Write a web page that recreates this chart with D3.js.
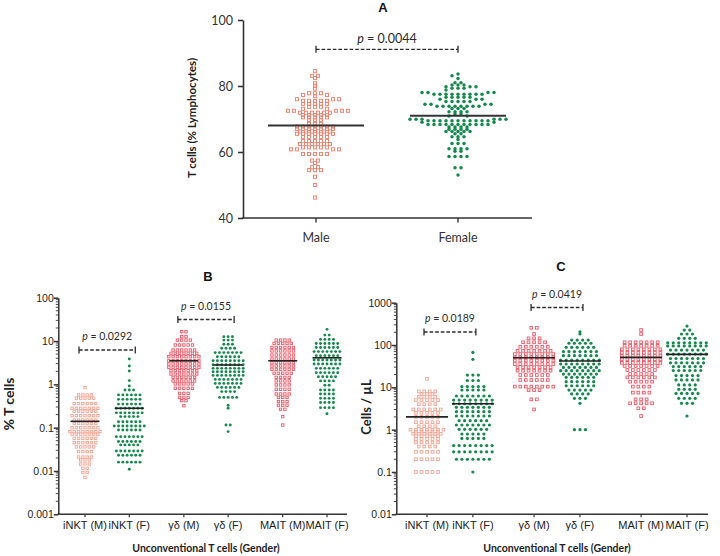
<!DOCTYPE html>
<html><head><meta charset="utf-8">
<script src="https://cdn.jsdelivr.net/npm/d3@7"></script>
<style>body{margin:0;background:#fff}svg{display:block}</style>
</head><body><svg id="c" width="720" height="556"></svg>
<script>
// ---------- DATA ----------
const aGroups = ["Male", "Female"];
const aTicks = [40, 60, 80, 100];
const aMeans = [68, 71];
const aP = "0.0044";
const aMale = [84.5, 83.1,83.1, 82.4, 80.8, 80.1, 79.2, 77.8,77.8,77.8, 77.3,77.3, 76.9,
  76.0,76.0,76.0, 75.5,75.5,75.5,75.5,75.5, 74.6,74.6,74.6,74.6,74.6, 73.7,73.7,73.7, 73.1,73.1,
  72.5,72.5,72.5,72.5,72.5, 71.9,71.9,71.9,71.9,71.9,71.9, 71.2,71.2,71.2,71.2,71.2,
  70.5,70.5,70.5,70.5,70.5, 69.7,69.7,69.7, 68.5,68.5,68.5,
  67.7,67.7,67.7,67.7,67.7,67.7,67.7, 67.0,67.0,67.0,67.0,67.0,67.0,67.0,
  66.2,66.2,66.2,66.2,66.2,66.2, 65.5,65.5,65.5,65.5,65.5,65.5,65.5, 64.6,64.6,64.6,64.6,64.6,
  63.3,63.3,63.3,63.3,63.3, 62.4,62.4,62.4,62.4,62.4,62.4, 61.4,61.4,61.4,61.4,61.4,
  60.8,60.8,60.8,60.8, 59.4,59.4,59.4,59.4,59.4, 57.4,57.4, 56.7, 55.4,55.4, 54.5,54.5,54.5,
  52.5, 50.0, 46.2];
const aFemale = [83.6, 83.1, 82.3, 81.0,81.0, 80.3,80.3,80.3, 79.8,79.8,79.8, 79.3,79.3,79.3, 78.8,
  78.0,78.0,78.0,78.0, 77.5,77.5,77.5,77.5,77.5,77.5,77.5,77.5,77.5, 76.6,76.6,76.6,76.6,76.6,
  76.0,76.0,76.0, 75.3,75.3,75.3,75.3,75.3, 74.5,74.5,74.5,74.5, 73.9,73.9,73.9,73.9,73.9,73.9,73.9,73.9,
  73.2,73.2,73.2, 72.2,72.2,72.2,72.2, 71.5,71.5, 70.9,70.9, 69.9,69.9,69.9,69.9,69.9,69.9,
  69.5,69.5,69.5,69.5,69.5,69.5,69.5,69.5,69.5,69.5,69.5, 69.0,69.0,
  68.3,68.3,68.3,68.3,68.3,68.3,68.3,68.3,68.3,68.3,68.3, 67.6,67.6,67.6,67.6,
  66.9,66.9,66.9,66.9, 66.2,66.2,66.2,66.2,66.2, 65.5,65.5, 64.6,64.6,64.6, 63.8,
  62.6,62.6,62.6, 61.0,61.0,61.0,61.0, 60.2,60.2, 58.6,58.6,58.6,58.6, 55.2,55.2, 53.0];

const uCats = ["iNKT (M)", "iNKT (F)", "γδ (M)", "γδ (F)", "MAIT (M)", "MAIT (F)"];
const bTicks = [0.001, 0.01, 0.1, 1, 10, 100];
const bMeans = [0.14, 0.28, 3.5, 2.8, 3.5, 4.1];
const bP = ["0.0292", "0.0155"];
const bINKTm = [0.84, 0.57,0.57,0.57,0.57, 0.48,0.48,0.48,0.48,0.48, 0.36,0.36,0.36,0.36,0.36,0.36,
  0.28,0.28,0.28,0.28,0.28,0.28,0.28, 0.24,0.24,0.24,0.24,0.24,0.24, 0.19,0.19,0.19,0.19,0.19,0.19,0.19,
  0.15,0.15,0.15,0.15,0.15,0.15, 0.125,0.125,0.125,0.125,0.125,0.125, 0.1,0.1,0.1,0.1,0.1,0.1,0.1,
  0.081,0.081,0.081,0.081,0.081,0.081,0.081,0.081, 0.071,0.071,0.071,0.071,0.071,0.071,0.071,
  0.057,0.057,0.057,0.057,0.057,0.057, 0.045,0.045,0.045,0.045,0.045,0.045, 0.036,0.036,0.036,0.036,0.036,
  0.028,0.028,0.028,0.028, 0.021,0.021,0.021,0.021, 0.018,0.018,0.018, 0.0145,0.0145,0.0145,
  0.0115,0.0115, 0.0092,0.0092, 0.0071];
const bINKTf = [3.85, 2.65, 2.03, 1.22, 0.92, 0.74,0.74,0.74, 0.57,0.57,0.57,0.57,0.57,0.57,
  0.45,0.45,0.45,0.45,0.45,0.45, 0.35,0.35,0.35,0.35,0.35,0.35, 0.28,0.28,0.28,0.28,0.28,0.28,0.28,
  0.22,0.22,0.22,0.22,0.22,0.22,0.22, 0.18,0.18,0.18,0.18,0.18, 0.137,0.137,0.137,0.137,0.137,0.137,
  0.109,0.109,0.109,0.109,0.109,0.109,0.109,0.109, 0.088,0.088,0.088,0.088,0.088,0.088,
  0.062,0.062,0.062,0.062,0.062,0.062,0.062, 0.048,0.048,0.048,0.048,0.048,0.048, 0.04,0.04,0.04,0.04,0.04,
  0.029,0.029,0.029,0.029,0.029,0.029,0.029, 0.023,0.023,0.023,0.023,0.023,0.023,
  0.016,0.016,0.016,0.016,0.016,0.016, 0.011];
const bGDm = [16.4,16.4, 12.6,12.6, 10.5,10.5,10.5,10.5, 8.1,8.1,8.1,8.1,8.1, 6.2,6.2,6.2,6.2,6.2,6.2,
  5.2,5.2,5.2,5.2,5.2,5.2,5.2, 4.35,4.35,4.35,4.35,4.35,4.35,4.35,4.35, 3.5,3.5,3.5,3.5,3.5,3.5,3.5,3.5,
  2.95,2.95,2.95,2.95,2.95,2.95,2.95,2.95, 2.47,2.47,2.47,2.47,2.47,2.47,2.47,2.47,
  2.07,2.07,2.07,2.07,2.07,2.07,2.07, 1.73,1.73,1.73,1.73,1.73,1.73,1.73, 1.45,1.45,1.45,1.45,1.45,1.45,
  1.2,1.2,1.2,1.2,1.2,1.2, 1.02,1.02,1.02,1.02,1.02, 0.81,0.81,0.81,0.81,0.81, 0.62,0.62,0.62,
  0.5,0.5,0.5, 0.42,0.42, 0.32];
const bGDf = [12.6,12.6,12.6, 10.5,10.5,10.5, 8.4,8.4,8.4, 6.8,6.8,6.8,6.8, 5.4,5.4,5.4,5.4,5.4,5.4,5.4,
  4.35,4.35,4.35,4.35,4.35,4.35, 3.5,3.5,3.5,3.5,3.5,3.5,3.5,3.5, 2.84,2.84,2.84,2.84,2.84,2.84,2.84,2.84,
  2.34,2.34,2.34,2.34,2.34,2.34,2.34,2.34, 1.96,1.96,1.96,1.96,1.96,1.96,1.96,1.96,
  1.61,1.61,1.61,1.61,1.61,1.61,1.61,1.61, 1.3,1.3,1.3,1.3,1.3,1.3,1.3, 1.05,1.05,1.05,1.05,1.05,1.05,1.05,
  0.85,0.85,0.85,0.85,0.85,0.85, 0.68,0.68,0.68,0.68, 0.5,0.5,0.5,0.5,0.5, 0.33, 0.28, 0.115,0.115, 0.081];
const bMAITm = [10.5,10.5,10.5,10.5, 8.8,8.8,8.8,8.8,8.8, 7.1,7.1,7.1,7.1,7.1,7.1, 5.9,5.9,5.9,5.9,5.9,5.9,
  4.75,4.75,4.75,4.75,4.75,4.75, 3.85,3.85,3.85,3.85,3.85,3.85, 3.16,3.16,3.16,3.16,3.16,3.16,
  2.65,2.65,2.65,2.65,2.65,2.65, 2.22,2.22,2.22,2.22,2.22,2.22, 1.8,1.8,1.8,1.8,1.8, 1.45,1.45,1.45,1.45,
  1.2,1.2,1.2,1.2, 0.97,0.97,0.97,0.97, 0.77,0.77,0.77,0.77, 0.6,0.6,0.6,0.6, 0.5,0.5,0.5, 0.4,0.4,0.4,
  0.33,0.33,0.33, 0.265,0.265, 0.18, 0.115];
const bMAITf = [18.6, 13.7,13.7, 10.9,10.9,10.9,10.9, 8.8,8.8,8.8,8.8,8.8,8.8, 7.1,7.1,7.1,7.1,7.1,7.1,
  5.7,5.7,5.7,5.7,5.7,5.7,5.7, 4.6,4.6,4.6,4.6,4.6,4.6, 3.65,3.65,3.65,3.65,3.65,3.65,3.65,
  2.95,2.95,2.95,2.95,2.95,2.95,2.95, 2.34,2.34,2.34,2.34,2.34,2.34, 1.86,1.86,1.86,1.86,1.86,1.86,
  1.5,1.5,1.5,1.5,1.5, 1.2,1.2,1.2,1.2, 0.95,0.95, 0.74,0.74,0.74,0.74, 0.6,0.6,0.6,0.6,
  0.475,0.475,0.475,0.475, 0.38,0.38,0.38,0.38, 0.29,0.29,0.29,0.29, 0.21];

const cTicks = [0.01, 0.1, 1, 10, 100, 1000];
const cMeans = [2.0, 4.1, 50, 42, 51, 60];
const cP = ["0.0189", "0.0419"];
const cINKTm = [16, 8,8,8,8, 7,7,7, 6,6,6,6, 5,5,5,5,5, 4,4,4,4, 3,3,3,3,3,3, 2.5,2.5,2.5,2.5,2.5,
  2,2,2,2,2, 1.5,1.5,1.5,1.5,1.5, 1.2,1.2,1.2,1.2, 1,1,1,1,1,1,1, 0.9,0.9,0.9,0.9,0.9,
  0.8,0.8,0.8,0.8,0.8,0.8, 0.7,0.7,0.7,0.7,0.7, 0.6,0.6,0.6,0.6,0.6, 0.5,0.5,0.5,0.5,0.5,
  0.4,0.4,0.4,0.4, 0.3,0.3,0.3,0.3,0.3, 0.2,0.2,0.2,0.2,0.2, 0.1,0.1,0.1,0.1,0.1];
const cINKTf = [67, 46, 19.5,19.5,19.5, 14.5,14.5,14.5, 10.4,10.4,10.4,10.4,10.4, 8.65,8.65,8.65,8.65,8.65,
  6.24,6.24,6.24,6.24,6.24,6.24,6.24, 5.0,5.0,5.0,5.0,5.0,5.0,5.0,5.0, 4.1,4.1,4.1,4.1,4.1,4.1,4.1,4.1,
  3.37,3.37,3.37,3.37,3.37,3.37,3.37, 2.66,2.66,2.66,2.66,2.66,2.66,2.66, 2.1,2.1,2.1,2.1,2.1,2.1,2.1,
  1.63,1.63,1.63,1.63,1.63,1.63, 1.29,1.29,1.29,1.29,1.29,1.29,1.29, 1.02,1.02,1.02,1.02,1.02,1.02,
  0.79,0.79,0.79,0.79,0.79, 0.62,0.62,0.62,0.62,0.62, 0.42,0.42,0.42,0.42,0.42,0.42,0.42,0.42,
  0.3,0.3,0.3,0.3,0.3,0.3,0.3,0.3, 0.2,0.2,0.2,0.2,0.2,0.2,0.2, 0.1];
const cGDm = [256,256, 182, 144,144,144, 116,116,116,116,116, 91,91,91,91,91,91, 73,73,73,73,73,73,73,
  61,61,61,61,61,61,61,61, 51,51,51,51,51,51,51,51, 43,43,43,43,43,43,43,43,
  35.5,35.5,35.5,35.5,35.5,35.5,35.5,35.5, 29.7,29.7,29.7,29.7,29.7,29.7,29.7,
  24.8,24.8,24.8,24.8,24.8,24.8,24.8, 19.6,19.6,19.6,19.6,19.6,19.6, 14.9,14.9,14.9,14.9,14.9,14.9,
  10.4,10.4,10.4,10.4,10.4,10.4,10.4,10.4, 8.6,8.6,8.6, 5.2,5.2, 3.0];
const cGDf = [205, 182, 131,131,131,131, 110,110,110,110,110, 88,88,88,88,88,88, 70,70,70,70,70,70,70,
  56,56,56,56,56,56,56, 44,44,44,44,44,44,44,44, 35.6,35.6,35.6,35.6,35.6,35.6,35.6,35.6,
  29.6,29.6,29.6,29.6,29.6,29.6,29.6, 24.8,24.8,24.8,24.8,24.8,24.8,24.8,24.8,
  20.6,20.6,20.6,20.6,20.6,20.6,20.6, 17.2,17.2,17.2,17.2,17.2,17.2, 13.6,13.6,13.6,13.6,13.6,13.6,
  10.9,10.9,10.9,10.9,10.9,10.9, 8.6,8.6,8.6,8.6,8.6, 7.0,7.0,7.0,7.0, 5.5,5.5,5.5, 4.2, 1.0,1.0,1.0];
const cMAITm = [226, 182, 116,116,116,116,116,116,116, 96,96,96,96,96,96,96, 79,79,79,79,79,79,79,79,
  66,66,66,66,66,66,66,66, 55,55,55,55,55,55,55,55, 46,46,46,46,46,46,46,46, 38,38,38,38,38,38,38,38,
  32,32,32,32,32,32,32, 25.7,25.7,25.7,25.7,25.7,25.7, 20.6,20.6,20.6,20.6,20.6,
  17.2,17.2,17.2,17.2,17.2,17.2, 13.6,13.6,13.6,13.6,13.6, 10.4,10.4,10.4,10.4, 7.5,7.5,7.5,7.5,
  5.2,5.2,5.2, 4.2,4.2,4.2,4.2,4.2, 3.2,3.2, 2.1];
const cMAITf = [281, 226,226, 182,182,182, 144,144,144,144, 113,113,113,113,113,113,113,113,
  95,95,95,95,95,95,95,95, 76,76,76,76,76,76,76, 61,61,61,61,61,61,61,61, 48,48,48,48,48,48,48,
  38,38,38,38,38,38,38, 31,31,31,31,31,31, 25,25,25,25,25,25, 19,19,19,19,19, 15,15,15,15,15,
  11.4,11.4,11.4,11.4, 9,9,9,9, 7.2,7.2,7.2,7.2,7.2, 5.5,5.5,5.5,5.5, 4.2,4.2,4.2, 2.1];

const bGroups = [bINKTm, bINKTf, bGDm, bGDf, bMAITm, bMAITf];
const cGroups = [cINKTm, cINKTf, cGDm, cGDf, cMAITm, cMAITf];

// ---------- STYLE ----------
const GREEN = "#13894c", CORAL = "#f07c68", SALMON = "#f4a392", PINK = "#ef5866";
const groupColors = [SALMON, GREEN, PINK, GREEN, PINK, GREEN];
const groupShapes = ["sq", "dot", "sq", "dot", "sq", "dot"];
const FA = "Lato, 'Open Sans', sans-serif";
const FB = "'Liberation Sans', Arial, sans-serif";
const INK = "#2b2b2b";

const svg = d3.select("#c");

// beeswarm row layout (Prism-like)
function swarm(vals, yS, sp, dyT) {
  const rows = Array.from(d3.group(vals, v => v), ([v, arr]) => ({v, n: arr.length, y: yS(v)}));
  rows.sort((a, b) => b.n - a.n || a.y - b.y);
  const placed = [];
  let alt = 1;
  for (const r of rows) {
    const ks = d3.range(r.n).map(i => i - (r.n - 1) / 2)
      .sort((a, b) => Math.abs(a) - Math.abs(b) || b - a);
    for (const k of ks) {
      let side;
      if (k > 0) side = 1; else if (k < 0) side = -1; else { alt = -alt; side = alt; }
      let x = k * sp, guard = 0;
      while (placed.some(p => Math.abs(p.x - x) < sp * 0.95 && Math.abs(p.y - r.y) < dyT) && guard++ < 300)
        x += side * sp / 2;
      placed.push({v: r.v, x, y: r.y});
    }
  }
  return placed;
}

function drawMarks(g, pts, cx, shape, color, size) {
  if (shape === "sq") {
    g.selectAll(null).data(pts).join("rect")
      .attr("x", d => cx + d.x - size / 2).attr("y", d => d.y - size / 2)
      .attr("width", size).attr("height", size)
      .attr("fill", "none").attr("stroke", color).attr("stroke-width", 0.9);
  } else {
    g.selectAll(null).data(pts).join("circle")
      .attr("cx", d => cx + d.x).attr("cy", d => d.y).attr("r", size / 2 + 0.25)
      .attr("fill", color);
  }
}

function pLabel(x, y, val, size) {
  const t = svg.append("text").attr("x", x).attr("y", y).attr("text-anchor", "middle")
    .attr("font-family", FA).attr("font-size", size).attr("fill", INK);
  t.append("tspan").attr("font-style", "italic").text("p");
  t.append("tspan").text(" = " + val);
}
function bracket(x1, x2, y) {
  const g = svg.append("g").attr("stroke", INK).attr("stroke-width", 1.3);
  g.append("line").attr("x1", x1).attr("x2", x2).attr("y1", y).attr("y2", y).attr("stroke-dasharray", "3.6,2");
  g.append("line").attr("x1", x1).attr("x2", x1).attr("y1", y - 3.5).attr("y2", y + 3.5);
  g.append("line").attr("x1", x2).attr("x2", x2).attr("y1", y - 3.5).attr("y2", y + 3.5);
}
function title(x, y, s) {
  svg.append("text").attr("x", x).attr("y", y).attr("text-anchor", "middle")
    .attr("font-family", FB).attr("font-weight", "bold").attr("font-size", 13).attr("fill", "#111").text(s);
}

// ---------- PANEL A ----------
const yA = d3.scaleLinear().domain([40, 100]).range([218, 20]);
const xA = d3.scalePoint().domain(aGroups).range([316, 458]);
const axA = svg.append("g").attr("transform", "translate(243,0)")
  .call(d3.axisLeft(yA).tickValues(aTicks).tickSize(5).tickSizeOuter(0));
axA.selectAll("path,line").attr("stroke", "#333").attr("stroke-width", 1.6);
axA.selectAll("text").attr("font-family", FA).attr("font-size", 12.5).attr("fill", "#333").attr("x", -10);
svg.append("line").attr("x1", 242.2).attr("x2", 532).attr("y1", 218).attr("y2", 218)
  .attr("stroke", "#333").attr("stroke-width", 1.6);
aGroups.forEach(gn => {
  svg.append("line").attr("x1", xA(gn)).attr("x2", xA(gn)).attr("y1", 218).attr("y2", 222.5)
    .attr("stroke", "#333").attr("stroke-width", 1.4);
  svg.append("text").attr("x", xA(gn)).attr("y", 241.5).attr("text-anchor", "middle")
    .attr("font-family", FA).attr("font-size", 12.5).attr("fill", "#333").text(gn);
});
svg.append("text").attr("transform", "translate(196,118) rotate(-90)").attr("text-anchor", "middle")
  .attr("font-family", FA).attr("font-weight", "bold").attr("font-size", 11.5).attr("fill", "#222")
  .text("T cells (% Lymphocytes)");
const gA = svg.append("g");
drawMarks(gA, swarm(aMale, yA, 6, 2.1), xA("Male") - 1, "sq", CORAL, 3.1);
drawMarks(gA, swarm(aFemale, yA, 6, 2.1), xA("Female"), "dot", GREEN, 3.0);
[aMale, aFemale].forEach((_, i) => {
  const cx = xA(aGroups[i]);
  svg.append("line").attr("x1", cx - 48).attr("x2", cx + 48).attr("y1", yA(aMeans[i])).attr("y2", yA(aMeans[i]))
    .attr("stroke", "#333").attr("stroke-width", 2);
});
bracket(xA("Male"), xA("Female"), 49.3);
pLabel((xA("Male") + xA("Female")) / 2, 43, aP, 12.5);
title(383, 12, "A");

// ---------- Log panels ----------
function logPanel(o) {
  const y = d3.scaleLog().domain([o.ticks[0], o.ticks[o.ticks.length - 1]]).range([o.y0, o.y1]);
  const posIdx = i => i + o.gap * Math.floor(i / 2);
  const x = d3.scaleLinear().domain([posIdx(0), posIdx(5)]).range([o.xs[0], o.xs[1]]);
  const cx = i => x(posIdx(i));
  const minors = [];
  for (let e = 0; e < o.ticks.length - 1; e++) for (let k = 2; k <= 9; k++) minors.push(o.ticks[e] * k);
  svg.append("g").selectAll("line").data(minors).join("line")
    .attr("x1", o.ax - 2.5).attr("x2", o.ax).attr("y1", d => y(d)).attr("y2", d => y(d))
    .attr("stroke", "#333").attr("stroke-width", 0.9);
  const ax = svg.append("g").attr("transform", `translate(${o.ax},0)`)
    .call(d3.axisLeft(y).tickValues(o.ticks).tickFormat(d => String(d)).tickSize(4.5).tickSizeOuter(0));
  ax.selectAll("path,line").attr("stroke", "#333").attr("stroke-width", 1.5);
  ax.selectAll("text").attr("font-family", FB).attr("font-size", 10.5).attr("fill", "#222").attr("x", -4.5);
  svg.append("line").attr("x1", o.ax - 0.75).attr("x2", o.xEnd).attr("y1", o.y0).attr("y2", o.y0)
    .attr("stroke", "#333").attr("stroke-width", 1.5);
  uCats.forEach((c, i) => {
    svg.append("line").attr("x1", cx(i)).attr("x2", cx(i)).attr("y1", o.y0).attr("y2", o.y0 + 3)
      .attr("stroke", "#333").attr("stroke-width", 1.2);
    svg.append("text").attr("x", cx(i)).attr("y", o.y0 + 15).attr("text-anchor", "middle")
      .attr("font-family", FB).attr("font-size", 11).attr("fill", "#222").text(c);
  });
  const g = svg.append("g");
  o.groups.forEach((vals, i) => {
    drawMarks(g, swarm(vals, y, o.sp, 1.8), cx(i), groupShapes[i], groupColors[i], o.ms);
  });
  o.means.forEach((m, i) => {
    svg.append("line").attr("x1", cx(i) - o.mw / 2).attr("x2", cx(i) + o.mw / 2).attr("y1", y(m)).attr("y2", y(m))
      .attr("stroke", "#222").attr("stroke-width", 1.6);
  });
  o.brackets.forEach((b, j) => {
    const x1 = cx(b.i) - o.bx, x2 = cx(b.i + 1) + o.bx;
    bracket(x1, x2, b.y);
    pLabel((x1 + x2) / 2, b.y - 10, o.p[j], 10.5);
  });
  svg.append("text").attr("transform", `translate(${o.ylx},${o.yly}) rotate(-90)`).attr("text-anchor", "middle")
    .attr("font-family", FA).attr("font-weight", "bold").attr("font-size", o.ylfs).attr("fill", "#222").text(o.ylab);
  svg.append("text").attr("x", o.xtx).attr("y", 551.5).attr("text-anchor", "middle")
    .attr("font-family", FA).attr("font-weight", "bold").attr("font-size", 10.5).attr("fill", "#222")
    .text("Unconventional T cells (Gender)");
}

logPanel({ticks: bTicks, y0: 514.3, y1: 297.7, ax: 58.3, xEnd: 347, xs: [85, 327], gap: 0.233,
  groups: bGroups, means: bMeans, sp: 4.3, ms: 2.4, mw: 29, p: bP, bx: 6,
  brackets: [{i: 0, y: 350}, {i: 2, y: 319.5}], ylab: "% T cells", ylx: 14, yly: 404, ylfs: 14, xtx: 206});
logPanel({ticks: cTicks, y0: 514.3, y1: 302.7, ax: 396.3, xEnd: 708, xs: [427, 687], gap: 0.333,
  groups: cGroups, means: cMeans, sp: 5.5, ms: 2.7, mw: 42, p: cP, bx: 3,
  brackets: [{i: 0, y: 332}, {i: 2, y: 307.5}], ylab: "Cells / µL", ylx: 371, yly: 407, ylfs: 13, xtx: 557});
title(208, 281, "B");
title(561, 271, "C");
</script></body></html>
